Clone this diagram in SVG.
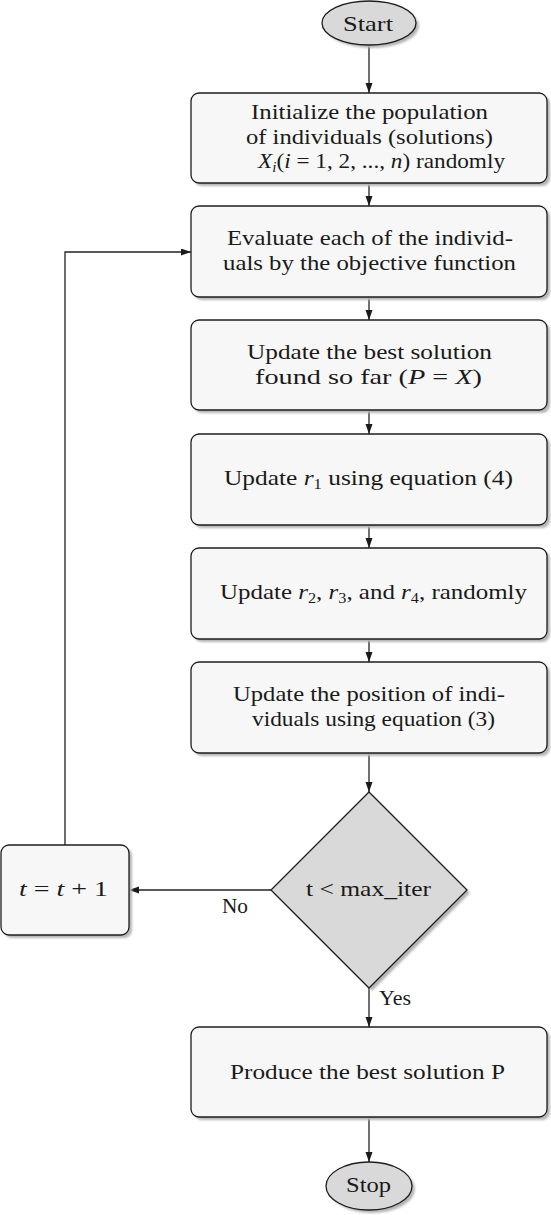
<svg xmlns="http://www.w3.org/2000/svg" width="551" height="1215" viewBox="0 0 551 1215">
<style>
.box{fill:#f7f7f7;stroke:#1e1e1e;stroke-width:1.3}
.term{fill:#d9d9d9;stroke:#1e1e1e;stroke-width:1.3}
.sh{fill:#b5b5b5;filter:url(#blur)}
.t{font-family:"Liberation Serif","Times New Roman",serif;font-size:21.5px;fill:#1a1a1a;text-anchor:middle}
.lbl{font-family:"Liberation Serif","Times New Roman",serif;font-size:21.5px;fill:#1a1a1a}
.it{font-style:italic}
.sub{font-size:14px}
.edge{fill:none;stroke:#222;stroke-width:1.3;marker-end:url(#arr)}
</style>
<defs>
<filter id="blur" x="-10%" y="-10%" width="120%" height="120%"><feGaussianBlur stdDeviation="0.8"/></filter>
<marker id="arr" markerUnits="userSpaceOnUse" markerWidth="10" markerHeight="8" refX="10" refY="3.5" orient="auto">
<path d="M0,0 L10,3.5 L0,7 z" fill="#1a1a1a"/>
</marker>
</defs>

<g id="connectors">
<path class="edge" d="M369,45 V93"/>
<path class="edge" d="M369,183 V206"/>
<path class="edge" d="M369,297 V320"/>
<path class="edge" d="M369,410 V434"/>
<path class="edge" d="M369,525 V548"/>
<path class="edge" d="M369,639 V662"/>
<path class="edge" d="M369,753 V792"/>
<path class="edge" d="M369,988 V1027"/>
<path class="edge" d="M369,1117 V1162"/>
<path class="edge" d="M271,890 H129"/>
<path class="edge" d="M65,845 V252 H191"/>
<text class="lbl" x="222" y="913" textLength="26" lengthAdjust="spacingAndGlyphs">No</text>
<text class="lbl" x="379" y="1005" textLength="32" lengthAdjust="spacingAndGlyphs">Yes</text>
</g>

<g id="start">
<ellipse class="sh" cx="372" cy="26" rx="47" ry="22"/>
<ellipse class="term" cx="369" cy="23" rx="47" ry="22"/>
<text class="t" x="368" y="31" textLength="50" lengthAdjust="spacingAndGlyphs">Start</text>
</g>

<g id="init">
<rect class="sh" x="194" y="96" width="356" height="90" rx="8"/>
<rect class="box" x="191" y="93" width="356" height="90" rx="8"/>
<text class="t" x="369.5" y="119" textLength="237" lengthAdjust="spacingAndGlyphs">Initialize the population</text>
<text class="t" x="369.5" y="143.5" textLength="247" lengthAdjust="spacingAndGlyphs">of individuals (solutions)</text>
<text class="t" x="381.5" y="168" textLength="247" lengthAdjust="spacingAndGlyphs"><tspan class="it">X</tspan><tspan class="sub it" dy="4">i</tspan><tspan dy="-4">(</tspan><tspan class="it">i</tspan><tspan> = 1, 2, ..., </tspan><tspan class="it">n</tspan><tspan>) randomly</tspan></text>
</g>

<g id="evaluate">
<rect class="sh" x="194" y="209" width="356" height="91" rx="8"/>
<rect class="box" x="191" y="206" width="356" height="91" rx="8"/>
<text class="t" x="370" y="245" textLength="286" lengthAdjust="spacingAndGlyphs">Evaluate each of the individ-</text>
<text class="t" x="369.5" y="269.5" textLength="293" lengthAdjust="spacingAndGlyphs">uals by the objective function</text>
</g>

<g id="best">
<rect class="sh" x="194" y="323" width="356" height="90" rx="8"/>
<rect class="box" x="191" y="320" width="356" height="90" rx="8"/>
<text class="t" x="369.5" y="359" textLength="245" lengthAdjust="spacingAndGlyphs">Update the best solution</text>
<text class="t" x="368.5" y="383.5" textLength="227" lengthAdjust="spacingAndGlyphs"><tspan>found so far (</tspan><tspan class="it">P</tspan><tspan> = </tspan><tspan class="it">X</tspan><tspan>)</tspan></text>
</g>

<g id="r1">
<rect class="sh" x="194" y="437" width="356" height="91" rx="8"/>
<rect class="box" x="191" y="434" width="356" height="91" rx="8"/>
<text class="t" x="368.5" y="485" textLength="289" lengthAdjust="spacingAndGlyphs"><tspan>Update </tspan><tspan class="it">r</tspan><tspan class="sub" dy="4">1</tspan><tspan dy="-4"> using equation (4)</tspan></text>
</g>

<g id="r234">
<rect class="sh" x="194" y="551" width="356" height="91" rx="8"/>
<rect class="box" x="191" y="548" width="356" height="91" rx="8"/>
<text class="t" x="373.5" y="599" textLength="307" lengthAdjust="spacingAndGlyphs"><tspan>Update </tspan><tspan class="it">r</tspan><tspan class="sub" dy="4">2</tspan><tspan dy="-4">, </tspan><tspan class="it">r</tspan><tspan class="sub" dy="4">3</tspan><tspan dy="-4">, and </tspan><tspan class="it">r</tspan><tspan class="sub" dy="4">4</tspan><tspan dy="-4">, randomly</tspan></text>
</g>

<g id="position">
<rect class="sh" x="194" y="665" width="356" height="91" rx="8"/>
<rect class="box" x="191" y="662" width="356" height="91" rx="8"/>
<text class="t" x="369" y="701" textLength="272" lengthAdjust="spacingAndGlyphs">Update the position of indi-</text>
<text class="t" x="373.5" y="725.5" textLength="243" lengthAdjust="spacingAndGlyphs">viduals using equation (3)</text>
</g>

<g id="decision">
<polygon class="sh" points="372,795 470,893 372,991 274,893"/>
<polygon class="term" points="369,792 467,890 369,988 271,890"/>
<text class="t" x="368.5" y="896" textLength="125" lengthAdjust="spacingAndGlyphs">t &lt; max_iter</text>
</g>

<g id="increment">
<rect class="sh" x="4" y="848" width="128" height="90" rx="8"/>
<rect class="box" x="1" y="845" width="128" height="90" rx="8"/>
<text class="t" x="63.5" y="896" textLength="89" lengthAdjust="spacingAndGlyphs"><tspan class="it">t</tspan><tspan> = </tspan><tspan class="it">t</tspan><tspan> + 1</tspan></text>
</g>

<g id="produce">
<rect class="sh" x="194" y="1030" width="356" height="90" rx="8"/>
<rect class="box" x="191" y="1027" width="356" height="90" rx="8"/>
<text class="t" x="367.5" y="1079" textLength="275" lengthAdjust="spacingAndGlyphs">Produce the best solution P</text>
</g>

<g id="stop">
<ellipse class="sh" cx="372" cy="1189" rx="43" ry="24"/>
<ellipse class="term" cx="369" cy="1186" rx="43" ry="24"/>
<text class="t" x="368.5" y="1192" textLength="45" lengthAdjust="spacingAndGlyphs">Stop</text>
</g>
</svg>
